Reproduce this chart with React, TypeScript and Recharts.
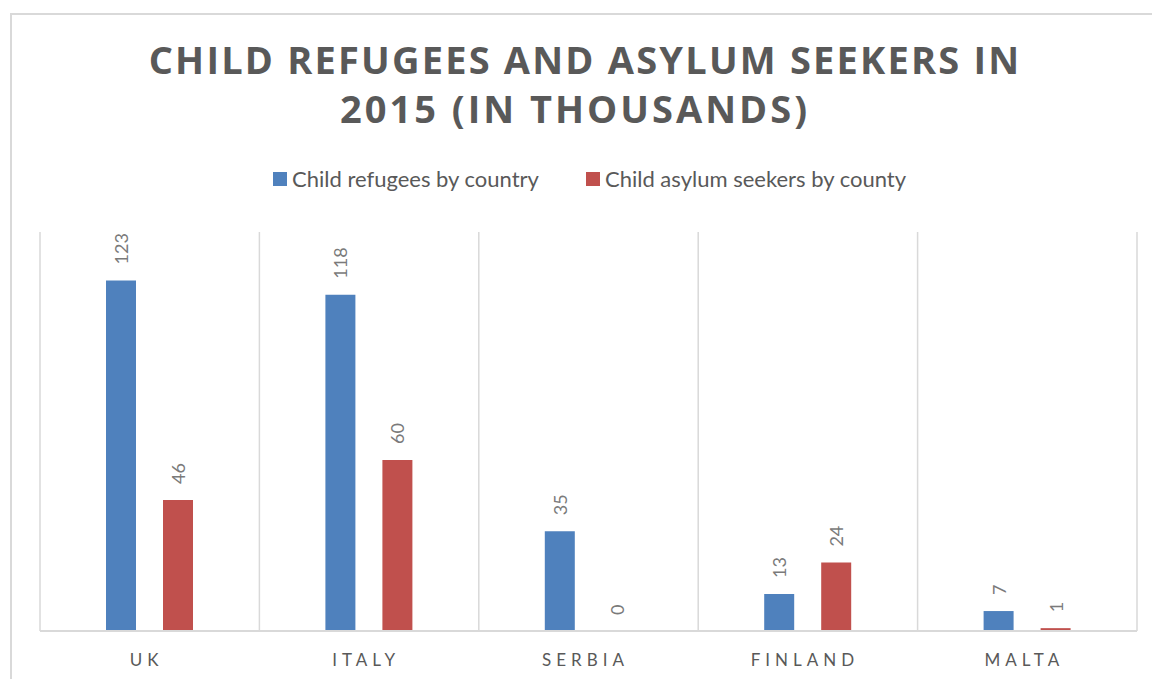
import React from 'react';
import { BarChart, Bar, XAxis, YAxis, CartesianGrid, LabelList, Rectangle } from 'recharts';

const countries = ['UK', 'ITALY', 'SERBIA', 'FINLAND', 'MALTA'];
const refugees = [123, 118, 35, 13, 7];
const asylumSeekers = [46, 60, 0, 24, 1];

const data = countries.map((c, i) => ({
  country: c,
  refugees: refugees[i],
  asylum: asylumSeekers[i],
}));

const BLUE = '#4f81bd';
const RED = '#c0504d';
const TEXT = '#595959';
const GRID = '#d9d9d9';
const FONT = 'Lato, "Open Sans", sans-serif';

const RotatedLabel = (props: any) => {
  const { x, y, width, height, value } = props;
  const cx = x + width / 2;
  // zero-value bars get a 1px placeholder, so measure from the real baseline
  const top = value === 0 ? y + height : y;
  const cy = top - 16;
  return (
    <text
      x={cx}
      y={cy}
      transform={`rotate(-90, ${cx}, ${cy})`}
      textAnchor="start"
      dominantBaseline="central"
      fill="#7a7a7a"
      fontSize={18}
      fontFamily={FONT}
    >
      {value}
    </text>
  );
};

// draw nothing for zero bars (they still exist so their label shows)
const BarShape = (props: any) => {
  if (props.value === 0 || (Array.isArray(props.value) && props.value[1] === 0)) return null;
  return <Rectangle {...props} />;
};

const CountryTick = (props: any) => {
  const { x, y, payload } = props;
  return (
    <text
      x={x - 3}
      y={y + 27}
      textAnchor="middle"
      fill={TEXT}
      fontSize={17}
      fontFamily={FONT}
      letterSpacing={5}
    >
      {payload.value}
    </text>
  );
};

const LegendItem = ({ color, label }: { color: string; label: string }) => (
  <div style={{ display: 'flex', alignItems: 'center', marginRight: 47 }}>
    <span style={{ width: 14, height: 14, background: color, display: 'inline-block', marginRight: 5 }} />
    <span style={{ fontSize: 22, color: TEXT, fontFamily: FONT }}>{label}</span>
  </div>
);

export default function App() {
  return (
    <div style={{ position: 'absolute', left: 0, top: 0, width: 1152, height: 679, overflow: 'hidden', background: '#fff' }}>
      <div
        style={{
          position: 'absolute',
          left: 10,
          top: 13,
          width: 1200,
          height: 720,
          borderLeft: `2px solid ${GRID}`,
          borderTop: `2px solid ${GRID}`,
        }}
      />
      <div
        style={{
          position: 'absolute',
          left: 0,
          top: 35,
          width: 1170,
          textAlign: 'center',
          fontFamily: '"Open Sans", sans-serif',
          fontWeight: 700,
          fontSize: 38,
          lineHeight: '49px',
          letterSpacing: 2.2,
          color: TEXT,
        }}
      >
        CHILD REFUGEES AND ASYLUM SEEKERS IN
        <br />
        <span style={{ position: 'relative', left: -10, letterSpacing: 3 }}>2015 (IN THOUSANDS)</span>
      </div>
      <div
        style={{
          position: 'absolute',
          left: 273,
          top: 165,
          display: 'flex',
        }}
      >
        <LegendItem color={BLUE} label="Child refugees by country" />
        <LegendItem color={RED} label="Child asylum seekers by county" />
      </div>
      <div style={{ position: 'absolute', left: 0, top: 0 }}>
        <BarChart
          width={1152}
          height={679}
          data={data}
          margin={{ top: 232, right: 15, left: 40, bottom: 18 }}
          barSize={30}
          barGap={27}
        >
          <CartesianGrid
            horizontal={false}
            stroke={GRID}
            strokeWidth={1.5}
            verticalCoordinatesGenerator={({ offset }: any) =>
              countries.map((_, i) => offset.left + (i * offset.width) / countries.length).concat(offset.left + offset.width)
            }
          />
          <XAxis
            dataKey="country"
            height={30}
            axisLine={{ stroke: GRID, strokeWidth: 2 }}
            tickLine={false}
            tick={<CountryTick />}
            interval={0}
          />
          <YAxis hide domain={[0, 140]} />
          <Bar dataKey="refugees" fill={BLUE} isAnimationActive={false} minPointSize={1} shape={<BarShape />}>
            <LabelList dataKey="refugees" content={<RotatedLabel />} />
          </Bar>
          <Bar dataKey="asylum" fill={RED} isAnimationActive={false} minPointSize={1} shape={<BarShape />}>
            <LabelList dataKey="asylum" content={<RotatedLabel />} />
          </Bar>
        </BarChart>
      </div>
    </div>
  );
}
